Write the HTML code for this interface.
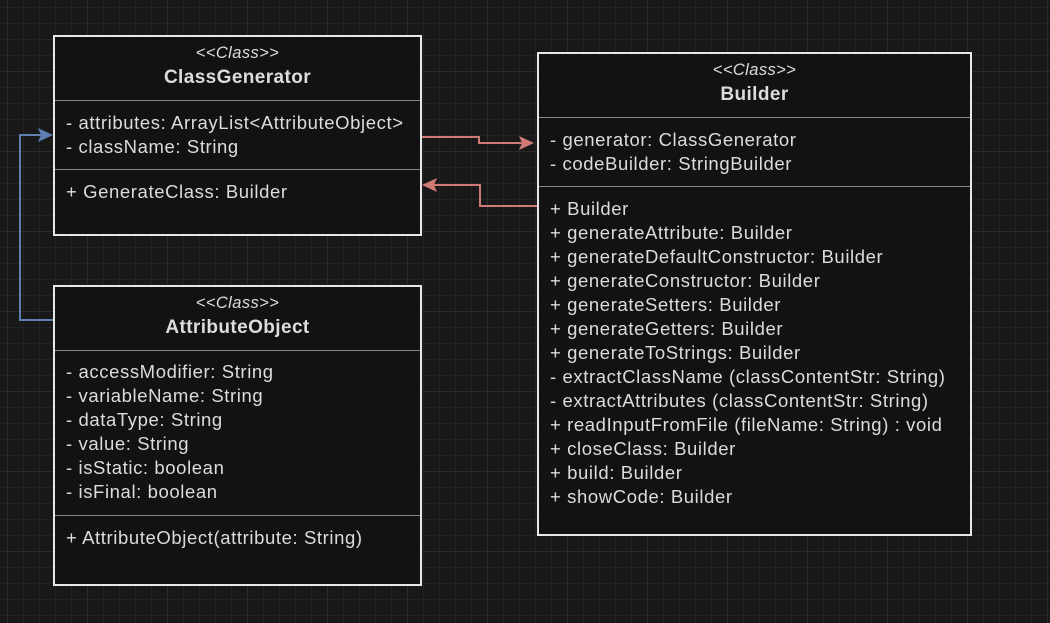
<!DOCTYPE html>
<html><head><style>
body{margin:0;width:1050px;height:623px;overflow:hidden;background:#181818;
background-image:linear-gradient(#2a2a2a 1px,transparent 1px),linear-gradient(90deg,#2a2a2a 1px,transparent 1px),linear-gradient(#222 1px,transparent 1px),linear-gradient(90deg,#222 1px,transparent 1px);
background-size:80px 80px,80px 80px,16px 16px,16px 16px;background-position:7px -9px,7px -9px,7px -9px,7px -9px;
font-family:"Liberation Sans",sans-serif;position:relative}
.box{position:absolute;background:#121212;border:2px solid #e8e8e8;box-sizing:border-box;color:#dcdcdc}
.hd{text-align:center;border-bottom:1px solid #888;box-sizing:border-box}
.st{font-style:italic;font-size:16.5px;padding-top:7px;line-height:18px;letter-spacing:0.4px}
.nm{font-weight:bold;font-size:19px;line-height:32px;letter-spacing:0.4px}
.sec{font-size:18.5px;line-height:24px;padding-left:11px;box-sizing:border-box;letter-spacing:0.6px;white-space:nowrap}
.sep{border-bottom:1px solid #888}
svg{position:absolute;left:0;top:0}
</style></head><body>
<div class="box" style="left:53px;top:35px;width:369px;height:201px">
<div class="hd" style="height:64px"><div class="st">&lt;&lt;Class&gt;&gt;</div><div class="nm">ClassGenerator</div></div>
<div class="sec sep" style="height:69px;padding-top:10px">- attributes: ArrayList&lt;AttributeObject&gt;<br>- className: String</div>
<div class="sec" style="padding-top:10px">+ GenerateClass: Builder</div>
</div>
<div class="box" style="left:53px;top:285px;width:369px;height:301px">
<div class="hd" style="height:64px"><div class="st">&lt;&lt;Class&gt;&gt;</div><div class="nm">AttributeObject</div></div>
<div class="sec sep" style="height:165px;padding-top:9px">- accessModifier: String<br>- variableName: String<br>- dataType: String<br>- value: String<br>- isStatic: boolean<br>- isFinal: boolean</div>
<div class="sec" style="padding-top:10px">+ AttributeObject(attribute: String)</div>
</div>
<div class="box" style="left:537px;top:52px;width:435px;height:484px">
<div class="hd" style="height:64px"><div class="st">&lt;&lt;Class&gt;&gt;</div><div class="nm">Builder</div></div>
<div class="sec sep" style="height:69px;padding-top:10px">- generator: ClassGenerator<br>- codeBuilder: StringBuilder</div>
<div class="sec" style="padding-top:10px">+ Builder<br>+ generateAttribute: Builder<br>+ generateDefaultConstructor: Builder<br>+ generateConstructor: Builder<br>+ generateSetters: Builder<br>+ generateGetters: Builder<br>+ generateToStrings: Builder<br>- extractClassName (classContentStr: String)<br>- extractAttributes (classContentStr: String)<br>+ readInputFromFile (fileName: String) : void<br>+ closeClass: Builder<br>+ build: Builder<br>+ showCode: Builder</div>
</div>
<svg width="1050" height="623">
<g fill="none" stroke-width="2">
<path d="M422 137H479V143H524" stroke="#d07a78"/>
<path d="M537 206H480V185H432" stroke="#d07a78"/>
<path d="M53 320H20V135H43" stroke="#5f7fb0"/>
</g>
<path d="M534 143L519 136L522 143L519 150Z" fill="#d07a78"/>
<path d="M422 185L437 178L434 185L437 192Z" fill="#d07a78"/>
<path d="M53 135L38 128L41 135L38 142Z" fill="#5f7fb0"/>
</svg>
</body></html>
